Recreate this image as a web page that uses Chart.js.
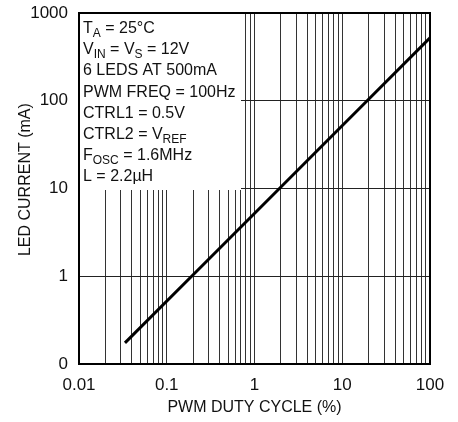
<!DOCTYPE html>
<html>
<head>
<meta charset="utf-8">
<script src="https://cdn.jsdelivr.net/npm/chart.js@4"></script>
<style>
  html, body { margin: 0; padding: 0; background: #fff; }
  #wrap { width: 458px; height: 422px; }
</style>
</head>
<body>
<div id="wrap"><canvas id="myChart" width="458" height="422"></canvas></div>
<script>
const dutyCycle = [0.0334, 0.2, 2, 19.6, 100];      // %
const ledCurrent = [0.174, 1.04, 10.4, 102, 520];   // mA
const yTicks = [0.1, 1, 10, 100, 1000];
const yTickLabels = ['0', '1', '10', '100', '1000'];
const xDecades = [0.01, 0.1, 1, 10, 100];
const xTickLabels = ['0.01', '0.1', '1', '10', '100'];

// conditions box, [text, subscript] pieces per line
const notes = [
  [['T', 'A'], [' = 25°C', '']],
  [['V', 'IN'], [' = V', 'S'], [' = 12V', '']],
  [['6 LEDS AT 500mA', '']],
  [['PWM FREQ = 100Hz', '']],
  [['CTRL1 = 0.5V', '']],
  [['CTRL2 = V', 'REF']],
  [['F', 'OSC'], [' = 1.6MHz', '']],
  [['L = 2.2µH', '']]
];

const FONT = "'Liberation Sans', Arial, sans-serif";

const points = dutyCycle.map((x, i) => ({x: x, y: ledCurrent[i]}));

const xGridValues = [];
for (let d = 0; d < xDecades.length; d++) {
  for (let m = 1; m < 10; m++) {
    if (d === xDecades.length - 1 && m > 1) break;
    xGridValues.push(+(xDecades[d] * m).toPrecision(3));
  }
}

const notesBox = {
  id: 'notesBox',
  beforeDatasetsDraw(chart) {
    const ctx = chart.ctx;
    const left = chart.chartArea.left;
    const top = chart.chartArea.top;
    ctx.save();
    ctx.fillStyle = '#fff';
    ctx.fillRect(left, top, 241 - left, 190 - top);
    ctx.fillStyle = '#111';
    ctx.textBaseline = 'alphabetic';
    let y = top + 20;
    notes.forEach(line => {
      let x = left + 4;
      line.forEach(([txt, sub]) => {
        ctx.font = '16px ' + FONT;
        ctx.fillText(txt, x, y);
        x += ctx.measureText(txt).width;
        if (sub) {
          ctx.font = '12px ' + FONT;
          ctx.fillText(sub, x, y + 4);
          x += ctx.measureText(sub).width;
        }
      });
      y += 21.2;
    });
    ctx.restore();
  },
  afterDraw(chart) {
    const {left, top, right, bottom} = chart.chartArea;
    const ctx = chart.ctx;
    ctx.save();
    ctx.strokeStyle = '#000';
    ctx.lineWidth = 2;
    ctx.strokeRect(left, top, right - left, bottom - top);
    ctx.restore();
  }
};

new Chart('myChart', {
  type: 'scatter',
  data: {
    datasets: [{
      data: points,
      showLine: true,
      borderColor: '#000',
      borderWidth: 3,
      pointRadius: 0,
      fill: false
    }]
  },
  options: {
    responsive: false,
    animation: false,
    layout: { padding: { left: 0, top: 13, right: 28, bottom: 0 } },
    plugins: { legend: { display: false }, tooltip: { enabled: false } },
    scales: {
      x: {
        type: 'logarithmic',
        min: 0.01,
        max: 100,
        afterBuildTicks(scale) { scale.ticks = xGridValues.map(v => ({value: v})); },
        afterFit(scale) {
          scale.height = 58;
          scale.paddingLeft = 0;
          scale.paddingRight = 0;
        },
        grid: { color: '#333', lineWidth: 1, drawTicks: false },
        border: { display: false },
        ticks: {
          autoSkip: false,
          maxRotation: 0,
          padding: 11,
          color: '#111',
          font: { family: FONT, size: 17 },
          callback(v) {
            const i = xDecades.findIndex(d => Math.abs(d - v) < d * 1e-6);
            return i >= 0 ? xTickLabels[i] : '';
          }
        },
        title: {
          display: true,
          text: 'PWM DUTY CYCLE (%)',
          color: '#111',
          font: { family: FONT, size: 16 },
          padding: { top: 0, bottom: 5 }
        }
      },
      y: {
        type: 'logarithmic',
        min: 0.1,
        max: 1000,
        afterBuildTicks(scale) { scale.ticks = yTicks.map(v => ({value: v})); },
        afterFit(scale) {
          scale.width = 79;
          scale.paddingTop = 0;
          scale.paddingBottom = 0;
        },
        grid: { color: '#222', lineWidth: 1, drawTicks: false },
        border: { display: false },
        ticks: {
          autoSkip: false,
          padding: 11,
          color: '#111',
          font: { family: FONT, size: 17 },
          callback(v) {
            const i = yTicks.findIndex(d => Math.abs(d - v) < d * 1e-6);
            return i >= 0 ? yTickLabels[i] : '';
          }
        },
        title: {
          display: true,
          text: '    LED CURRENT (mA)',
          color: '#111',
          font: { family: FONT, size: 16 },
          padding: { top: 16, bottom: 0 }
        }
      }
    }
  },
  plugins: [notesBox]
});
</script>
</body>
</html>
